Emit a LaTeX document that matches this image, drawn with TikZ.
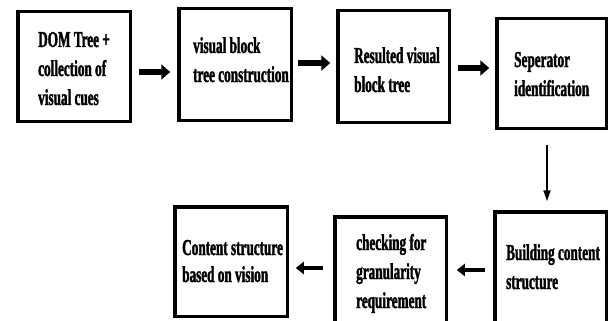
\documentclass[tikz,border=0pt]{standalone}
\usepackage{fontspec}
\setmainfont[FakeStretch=0.58]{Liberation Serif}[BoldFeatures={FakeStretch=0.58,FakeBold=1.5}]
\usetikzlibrary{arrows.meta}
\tikzset{
  box/.style={draw=black, line width=3.5pt, fill=white, rectangle, inner sep=0pt},
  txt/.style={anchor=base west, inner sep=0pt, font=\fontsize{22.8}{29}\selectfont\bfseries},
  fat/.style={line width=5.5pt, -{Triangle[length=9pt,width=15pt]}},
  fatb/.style={line width=4.5pt, -{Triangle[length=8pt,width=12pt]}},
  thin/.style={line width=2pt, -{Triangle[length=11pt,width=7pt]}}
}
\begin{document}
\begin{tikzpicture}[x=1pt,y=-1pt]
\useasboundingbox (0,0) rectangle (608,321);
\clip (0,0) rectangle (608,321);
% boxes (outer edges given in pixels)
\node[box, minimum width=112.5pt, minimum height=109.5pt] (b1) at (74,66.5) {};
\node[box, minimum width=112.5pt, minimum height=111.5pt] (b2) at (235,64.5) {};
\node[box, minimum width=111.5pt, minimum height=111.5pt] (b3) at (393.5,66.5) {};
\node[box, minimum width=109.5pt, minimum height=109.5pt] (b4) at (551.5,73.5) {};
\node[box, minimum width=111.5pt, minimum height=116.5pt] (b5) at (550.5,270) {};
\node[box, minimum width=111.5pt, minimum height=111.5pt] (b6) at (390.5,272.5) {};
\node[box, minimum width=112.5pt, minimum height=109.5pt] (b7) at (231,261.5) {};
% texts
\node[txt] (t1) at (38,47) {\begin{tabular}[t]{@{}l@{}}DOM Tree +\\collection of\\visual cues\end{tabular}};
\node[txt] (t2) at (193,53) {\begin{tabular}[t]{@{}l@{}}visual block\\tree construction\end{tabular}};
\node[txt] (t3) at (354,63) {\begin{tabular}[t]{@{}l@{}}Resulted visual\\block tree\end{tabular}};
\node[txt] (t4) at (514,67) {\begin{tabular}[t]{@{}l@{}}Seperator\\identification\end{tabular}};
\node[txt] (t5) at (506,260) {\begin{tabular}[t]{@{}l@{}}Building content\\structure\end{tabular}};
\node[txt] (t6) at (356,250) {\begin{tabular}[t]{@{}l@{}}checking for\\granularity\\requirement\end{tabular}};
\node[txt, font=\fontsize{22.8}{27}\selectfont\bfseries] (t7) at (182,255) {\begin{tabular}[t]{@{}l@{}}Content structure\\based on vision\end{tabular}};
% connectors
\draw[fat, shorten <=6.75pt, shorten >=6.75pt] ([yshift=-5.5pt]b1.east) -- ([yshift=-7.5pt]b2.west);
\draw[fat, shorten <=4.75pt, shorten >=5.75pt] ([yshift=1.5pt]b2.east) -- ([yshift=3.5pt]b3.west);
\draw[fat, shorten <=6.75pt, shorten >=5.75pt] ([yshift=-1.5pt]b3.east) -- ([yshift=5.5pt]b4.west);
\draw[thin, shorten <=14.75pt, shorten >=8.75pt] ([xshift=-4.5pt]b4.south) -- ([xshift=-3.5pt]b5.north);
\draw[fatb, shorten <=7.75pt, shorten >=8.75pt] (b5.west) -- ([yshift=2.5pt]b6.east);
\draw[fatb, shorten <=9.75pt, shorten >=6.75pt] ([yshift=4.5pt]b6.west) -- ([yshift=-6.5pt]b7.east);
\end{tikzpicture}
\end{document}
